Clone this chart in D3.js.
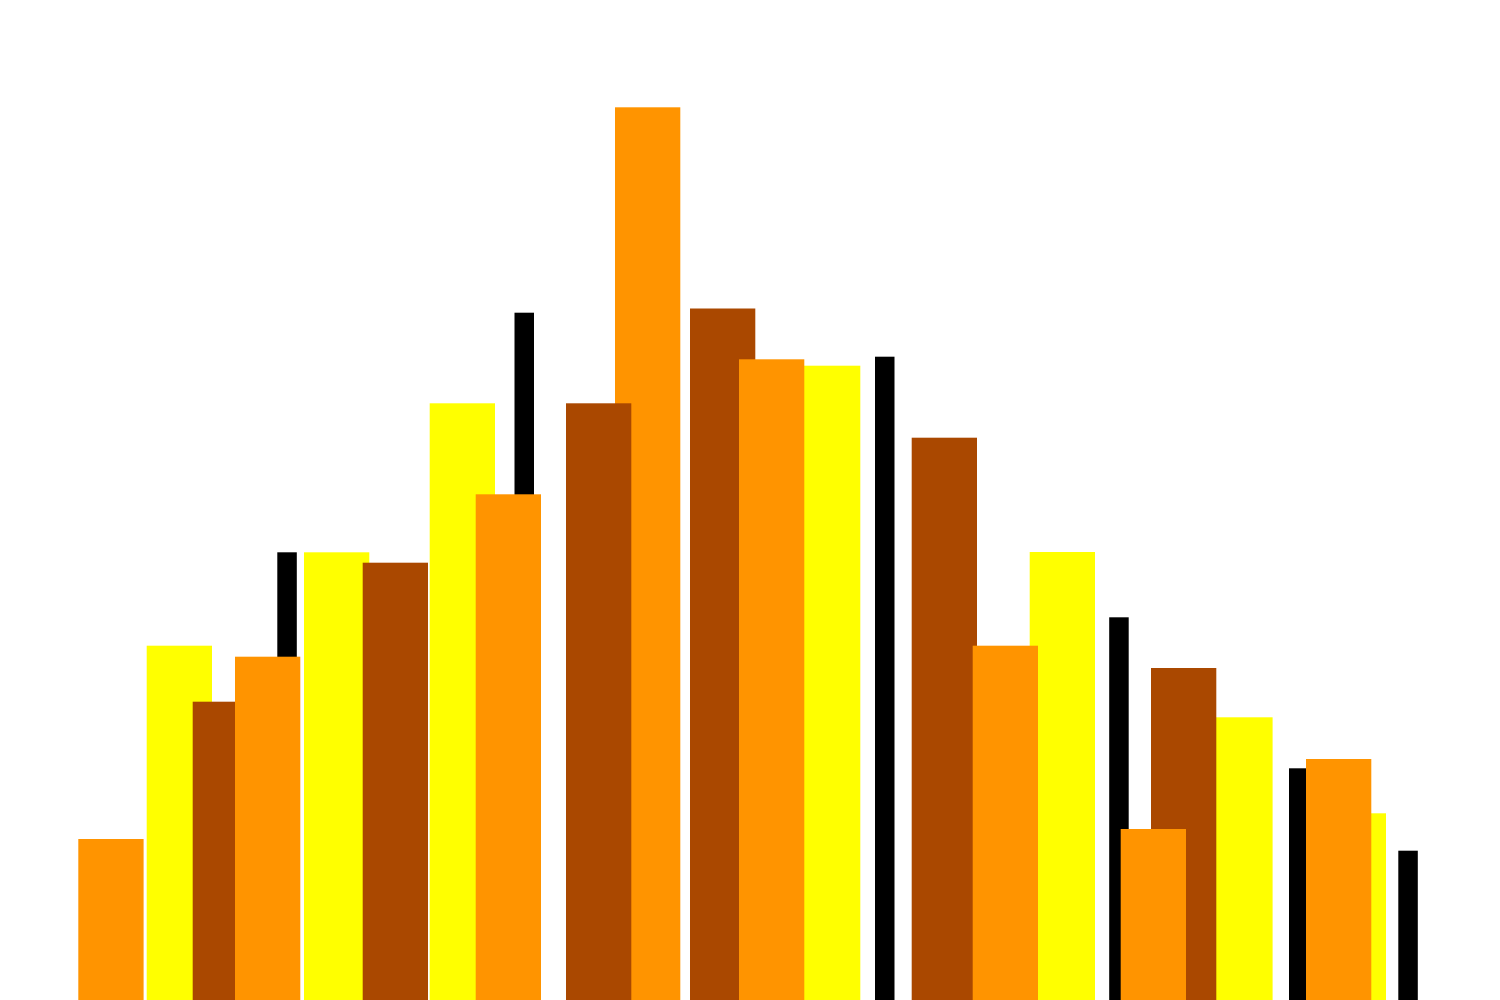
<!DOCTYPE html>
<html>
<head>
<meta charset="utf-8">
<script src="https://cdnjs.cloudflare.com/ajax/libs/d3/7.8.5/d3.min.js"></script>
<style>
    html, body { margin: 0; padding: 0; background: #fff; }
    svg { display: block; }
</style>
</head>
<body>
<svg id="svg_panel" width="1500" height="1000"></svg>
<script>
// series names and their colours
var seriesNames = ["black", "yellow", "brown", "orange"];
var seriesColors = ["#000000", "#FFFF00", "#AA4800", "#FF9400"];

// bars in drawing order: series index, start on the x axis, value
var barSeries = [
    0, 0, 0, 0, 0, 0,
    1, 1, 1, 1, 1, 1, 1,
    2, 2, 2, 2, 2,
    3, 3, 3, 3, 3, 3, 3, 3,
    2
];
var barStart = [
    27.73, 51.45, 87.5, 110.92, 128.9, 139.83,
    14.67, 30.4, 42.97, 79.5, 102.97, 120.73, 132.07,
    19.27, 36.27, 69.0, 91.17, 115.1,
    7.83, 23.5, 47.57, 61.5, 73.9, 97.27, 112.07, 130.6,
    56.6
];
var barValue = [
    44.77, 68.73, 64.33, 38.27, 23.17, 14.93,
    35.43, 44.77, 59.67, 63.43, 44.8, 28.27, 18.67,
    29.83, 43.73, 69.15, 56.23, 33.2,
    16.1, 34.33, 50.57, 89.27, 64.07, 35.43, 17.1, 24.1,
    59.67
];

var drawBars = function (svg_id) {
    var svg = d3.select("#" + svg_id);
    var width = +svg.attr("width"),
        height = +svg.attr("height");

    var x = d3.scaleLinear().domain([0, 150]).range([0, width]);
    var y = d3.scaleLinear().domain([0, 100]).range([height, 0]);
    var color = d3.scaleOrdinal().domain(seriesNames).range(seriesColors);

    var data = barValue.map(function (v, i) {
        return { series: seriesNames[barSeries[i]], start: barStart[i], value: v };
    });

    // black bars are thin, the others wide
    var barWidth = function (d) { return d.series === "black" ? 1.95 : 6.53; };

    svg.append("g")
        .selectAll("rect")
        .data(data)
        .enter()
        .append("rect")
        .attr("x", function (d) { return x(d.start); })
        .attr("width", function (d) { return x(d.start + barWidth(d)) - x(d.start); })
        .attr("y", function (d) { return y(d.value); })
        .attr("height", function (d) { return y(0) - y(d.value); })
        .attr("fill", function (d) { return color(d.series); });
};

drawBars("svg_panel");
</script>
</body>
</html>
